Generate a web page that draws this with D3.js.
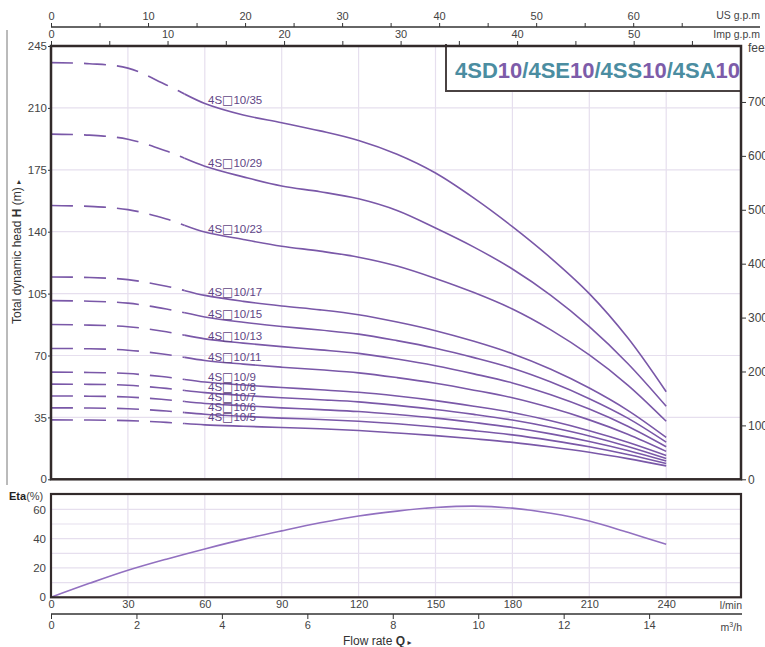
<!DOCTYPE html>
<html>
<head>
<meta charset="utf-8">
<script src="https://cdn.jsdelivr.net/npm/d3@7"></script>
<style>
  body { margin: 0; background: #fff; }
  svg { display: block; font-family: "Liberation Sans", Arial, sans-serif; }
</style>
</head>
<body>
<svg id="chart" width="765" height="647"></svg>
<script>
// ---------- data ----------
const flow = [0, 15, 30, 45, 60, 75, 90, 105, 120, 135, 150, 165, 180, 195, 210, 225, 240]; // l/min
const stages = [35, 29, 23, 17, 15, 13, 11, 9, 8, 7, 6, 5];
const head35 = [235.6, 235.0, 232.5, 223.0, 212.5, 206.0, 201.6, 197.0, 191.6, 183.8, 173.2, 159.0, 142.9, 125.1, 105.0, 80.0, 49.5];
const head29 = [195.2, 194.6, 192.3, 185.6, 177.0, 171.0, 165.8, 162.6, 158.6, 152.0, 142.1, 131.3, 118.9, 104.0, 86.3, 65.5, 41.3];
const head23 = [154.8, 154.3, 152.5, 147.2, 139.8, 135.6, 131.8, 129.0, 125.6, 120.6, 113.6, 105.6, 96.3, 84.5, 70.3, 53.3, 32.8];
const head17 = [114.4, 114.1, 112.9, 109.2, 104.0, 100.6, 98.0, 95.8, 93.0, 88.9, 84.0, 78.0, 71.0, 62.2, 51.6, 39.0, 23.7];
const head15 = [101.0, 100.7, 99.6, 96.3, 91.8, 88.8, 86.4, 84.4, 82.1, 78.4, 74.1, 68.8, 62.8, 55.0, 45.6, 34.6, 21.0];
const head13 = [87.5, 87.2, 86.3, 83.4, 79.4, 77.0, 75.0, 73.2, 71.2, 68.0, 64.2, 59.6, 54.5, 47.8, 39.7, 30.0, 18.4];
const head11 = [74.0, 73.8, 73.0, 70.6, 67.2, 65.1, 63.4, 61.9, 60.2, 57.5, 54.3, 50.4, 46.1, 40.4, 33.6, 25.5, 15.8];
const head9  = [60.6, 60.4, 59.8, 57.8, 55.0, 53.3, 51.9, 50.6, 49.2, 47.1, 44.5, 41.3, 37.8, 33.1, 27.5, 21.0, 13.5];
const head8  = [53.8, 53.7, 53.2, 51.4, 49.0, 47.4, 46.1, 45.0, 43.8, 41.8, 39.5, 36.7, 33.5, 29.4, 24.5, 18.6, 11.8];
const head7  = [47.1, 47.0, 46.5, 45.0, 42.9, 41.6, 40.4, 39.4, 38.3, 36.6, 34.6, 32.1, 29.3, 25.7, 21.4, 16.3, 10.3];
const head6  = [40.4, 40.3, 39.9, 38.6, 36.8, 35.6, 34.6, 33.8, 32.8, 31.4, 29.6, 27.5, 25.1, 22.0, 18.4, 14.0, 8.9];
const head5  = [33.6, 33.5, 33.2, 32.2, 30.8, 30.0, 29.3, 28.6, 27.6, 26.2, 24.7, 22.9, 20.9, 18.3, 15.3, 11.7, 7.6];
const heads = [head35, head29, head23, head17, head15, head13, head11, head9, head8, head7, head6, head5];
const eta = [0, 9.5, 18.4, 26.0, 33.0, 39.5, 45.3, 50.8, 55.5, 58.8, 61.2, 62.2, 60.8, 57.3, 52.0, 44.3, 36.2];

const headTicks = [0, 35, 70, 105, 140, 175, 210, 245];
const feetTicks = [0, 100, 200, 300, 400, 500, 600, 700];
const etaTicks = [0, 20, 40, 60];
const flowTicks = [0, 30, 60, 90, 120, 150, 180, 210, 240];
const m3hTicks = [0, 2, 4, 6, 8, 10, 12, 14];
const usTicks = [0, 5, 10, 15, 20, 25, 30, 35, 40, 45, 50, 55, 60, 65];
const impTicks = [0, 5, 10, 15, 20, 25, 30, 35, 40, 45, 50, 55];
const titleParts = [["4SD", 0], ["10", 1], ["/4SE", 0], ["10", 1], ["/4SS", 0], ["10", 1], ["/4SA", 0], ["10", 1]];
const dashedUntil = 52; // l/min

// ---------- layout ----------
const svg = d3.select("#chart");
const L = 51, R = 741;
const mainTop = 46, mainBot = 479.3;
const etaTop = 494, etaBot = 597.3;
const curveColor = "#7a58a8";
const gridColor = "#e6dfee";
const frameColor = "#322a2a";

const x = d3.scaleLinear().domain([0, 240]).range([L, 666.2]);
const y = d3.scaleLinear().domain([0, 245]).range([mainBot, mainTop]);
const yFeet = d3.scaleLinear().domain([0, 245 * 3.28084]).range([mainBot, mainTop]);
const yEta = d3.scaleLinear().domain([0, 70.45]).range([etaBot, etaTop]);
const us = d3.scaleLinear().domain([0, 240 / 3.78541]).range([L, 666.2]);
const imp = d3.scaleLinear().domain([0, 240 / 4.54609]).range([L, 666.2]);
const m3h = d3.scaleLinear().domain([0, 240 * 0.06]).range([L, 666.2]);

// clip paths
const defs = svg.append("defs");
defs.append("clipPath").attr("id", "clipDash").append("rect")
  .attr("x", L).attr("y", mainTop).attr("width", x(dashedUntil) - L).attr("height", mainBot - mainTop);
defs.append("clipPath").attr("id", "clipSolid").append("rect")
  .attr("x", x(dashedUntil)).attr("y", mainTop).attr("width", R - x(dashedUntil)).attr("height", mainBot - mainTop);

// far-left thin line
svg.append("line").attr("x1", 7).attr("x2", 7).attr("y1", 30).attr("y2", 485)
  .attr("stroke", "#777").attr("stroke-width", 1);

// ---------- grid ----------
const grid = svg.append("g");
flowTicks.filter(d => d > 0).forEach(d => {
  grid.append("line").attr("x1", x(d)).attr("x2", x(d)).attr("y1", mainTop).attr("y2", mainBot)
    .attr("stroke", gridColor).attr("stroke-width", 1.2);
  grid.append("line").attr("x1", x(d)).attr("x2", x(d)).attr("y1", etaTop).attr("y2", etaBot)
    .attr("stroke", gridColor).attr("stroke-width", 1.2);
});
headTicks.filter(d => d > 0 && d < 245).forEach(d => {
  grid.append("line").attr("x1", L).attr("x2", R).attr("y1", y(d)).attr("y2", y(d))
    .attr("stroke", gridColor).attr("stroke-width", 1.2);
});
d3.range(10, 70, 10).forEach(d => {
  grid.append("line").attr("x1", L).attr("x2", R).attr("y1", yEta(d)).attr("y2", yEta(d))
    .attr("stroke", gridColor).attr("stroke-width", 1.2);
});

// ---------- curves ----------
const line = d3.line().x(d => x(d[0])).y(d => y(d[1])).curve(d3.curveCatmullRom.alpha(0.5));
const curves = svg.append("g");
heads.forEach((h, i) => {
  const pts = flow.map((q, j) => [q, h[j]]);
  curves.append("path").attr("d", line(pts)).attr("fill", "none")
    .attr("stroke", curveColor).attr("stroke-width", 1.6)
    .attr("stroke-dasharray", "22,11").attr("clip-path", "url(#clipDash)");
  curves.append("path").attr("d", line(pts)).attr("fill", "none")
    .attr("stroke", curveColor).attr("stroke-width", 1.6)
    .attr("clip-path", "url(#clipSolid)");
  const n = stages[i];
  const by = y(h[4]) + 1 - Math.max(0, 11 - n) * 0.8;
  const t = curves.append("text").attr("x", 208).attr("y", by)
    .attr("font-size", 11.5).attr("fill", "#5f4686");
  t.append("tspan").text("4S");
  t.append("tspan").attr("font-family", "DejaVu Sans").attr("font-size", 12).text("\u25A1");
  t.append("tspan").text("10/" + n);
});

// ---------- title box ----------
svg.append("rect").attr("x", 446).attr("y", mainTop).attr("width", R - 446).attr("height", 45)
  .attr("fill", "#fff").attr("stroke", "none");
svg.append("path").attr("d", `M446,${mainTop - 2} V91 H${R}`).attr("fill", "none")
  .attr("stroke", "#4a4242").attr("stroke-width", 2);
const title = svg.append("text").attr("x", 455).attr("y", 78)
  .attr("font-size", 22).attr("font-weight", "bold");
titleParts.forEach(([t, c]) => {
  title.append("tspan").attr("fill", c ? "#7d5ca9" : "#4b8da1").text(t);
});

// ---------- eta curve ----------
const etaLine = d3.line().x(d => x(d[0])).y(d => yEta(d[1])).curve(d3.curveCatmullRom.alpha(0.5));
svg.append("path").attr("d", etaLine(flow.map((q, j) => [q, eta[j]])))
  .attr("fill", "none").attr("stroke", "#9270c0").attr("stroke-width", 1.6);

// ---------- frames ----------
svg.append("rect").attr("x", L).attr("y", mainTop).attr("width", R - L).attr("height", mainBot - mainTop)
  .attr("fill", "none").attr("stroke", frameColor).attr("stroke-width", 2.5);
svg.append("rect").attr("x", L).attr("y", etaTop).attr("width", R - L).attr("height", etaBot - etaTop)
  .attr("fill", "none").attr("stroke", frameColor).attr("stroke-width", 2.2);

// ---------- axes ----------
function styleAxis(g, size) {
  g.select(".domain").remove();
  g.selectAll(".tick line").attr("stroke", "#333");
  g.selectAll(".tick text").attr("fill", "#444").attr("font-size", size || 11)
    .attr("font-family", "Liberation Sans, Arial, sans-serif");
}
svg.append("g").attr("transform", `translate(${L},0)`)
  .call(d3.axisLeft(y).tickValues(headTicks).tickSize(3).tickPadding(1))
  .call(g => styleAxis(g, 11.5));
svg.append("g").attr("transform", `translate(${R},0)`)
  .call(d3.axisRight(yFeet).tickValues(feetTicks).tickSize(5).tickPadding(2))
  .call(g => styleAxis(g, 12));
svg.append("text").attr("x", 748).attr("y", 52).attr("font-size", 12).attr("fill", "#444").text("feet");

// top US gpm axis
svg.append("line").attr("x1", L).attr("x2", 760).attr("y1", 27).attr("y2", 27)
  .attr("stroke", "#333").attr("stroke-width", 1.3);
svg.append("g").attr("transform", "translate(0,27)")
  .call(d3.axisTop(us).tickValues(usTicks).tickSize(4).tickPadding(3)
    .tickFormat(d => d % 10 === 0 ? d : ""))
  .call(g => styleAxis(g, 11));
svg.append("text").attr("x", 760).attr("y", 19).attr("text-anchor", "end")
  .attr("font-size", 10.5).attr("fill", "#444").text("US g.p.m");

// top Imp gpm axis
svg.append("g").attr("transform", `translate(0,${mainTop})`)
  .call(d3.axisTop(imp).tickValues(impTicks).tickSize(5).tickPadding(3)
    .tickFormat(d => d % 10 === 0 ? d : ""))
  .call(g => styleAxis(g, 11));
svg.append("text").attr("x", 760).attr("y", 38).attr("text-anchor", "end")
  .attr("font-size", 10.5).attr("fill", "#444").text("Imp g.p.m");

// eta axis
svg.append("g").attr("transform", `translate(${L},0)`)
  .call(d3.axisLeft(yEta).tickValues(etaTicks).tickSize(0).tickPadding(5))
  .call(g => styleAxis(g, 11.5));
const etaLbl = svg.append("text").attr("x", 9).attr("y", 500).attr("font-size", 11).attr("fill", "#222");
etaLbl.append("tspan").attr("font-weight", "bold").text("Eta");
etaLbl.append("tspan").attr("fill", "#444").text("(%)");

// l/min axis
svg.append("g").attr("transform", `translate(0,${etaBot})`)
  .call(d3.axisBottom(x).tickValues(flowTicks).tickSize(0).tickPadding(3))
  .call(g => styleAxis(g, 11));
svg.append("text").attr("x", 742).attr("y", 609).attr("text-anchor", "end")
  .attr("font-size", 10.5).attr("fill", "#444").text("l/min");

// m3/h axis
svg.append("line").attr("x1", L).attr("x2", 742).attr("y1", 614).attr("y2", 614)
  .attr("stroke", "#333").attr("stroke-width", 1.3);
svg.append("g").attr("transform", "translate(0,614)")
  .call(d3.axisBottom(m3h).tickValues(m3hTicks).tickSize(5).tickPadding(2))
  .call(g => styleAxis(g, 11));
const m3 = svg.append("text").attr("x", 742).attr("y", 631).attr("text-anchor", "end")
  .attr("font-size", 10.5).attr("fill", "#444");
m3.append("tspan").text("m");
m3.append("tspan").attr("font-size", 7).attr("dy", -4).text("3");
m3.append("tspan").attr("dy", 4).text("/h");

// axis titles
const yt = svg.append("text").attr("transform", "translate(21,252) rotate(-90)")
  .attr("text-anchor", "middle").attr("font-size", 12).attr("fill", "#333");
yt.append("tspan").text("Total dynamic head ");
yt.append("tspan").attr("font-weight", "bold").text("H");
yt.append("tspan").text(" (m) ");
yt.append("tspan").attr("font-size", 8).attr("font-family", "DejaVu Sans").text("\u25B8");

const xt = svg.append("text").attr("x", 343).attr("y", 645).attr("font-size", 12).attr("fill", "#333");
xt.append("tspan").text("Flow  rate   ");
xt.append("tspan").attr("font-weight", "bold").text("Q");
xt.append("tspan").attr("font-size", 8).attr("font-family", "DejaVu Sans").text(" \u25B8");
</script>
</body>
</html>
